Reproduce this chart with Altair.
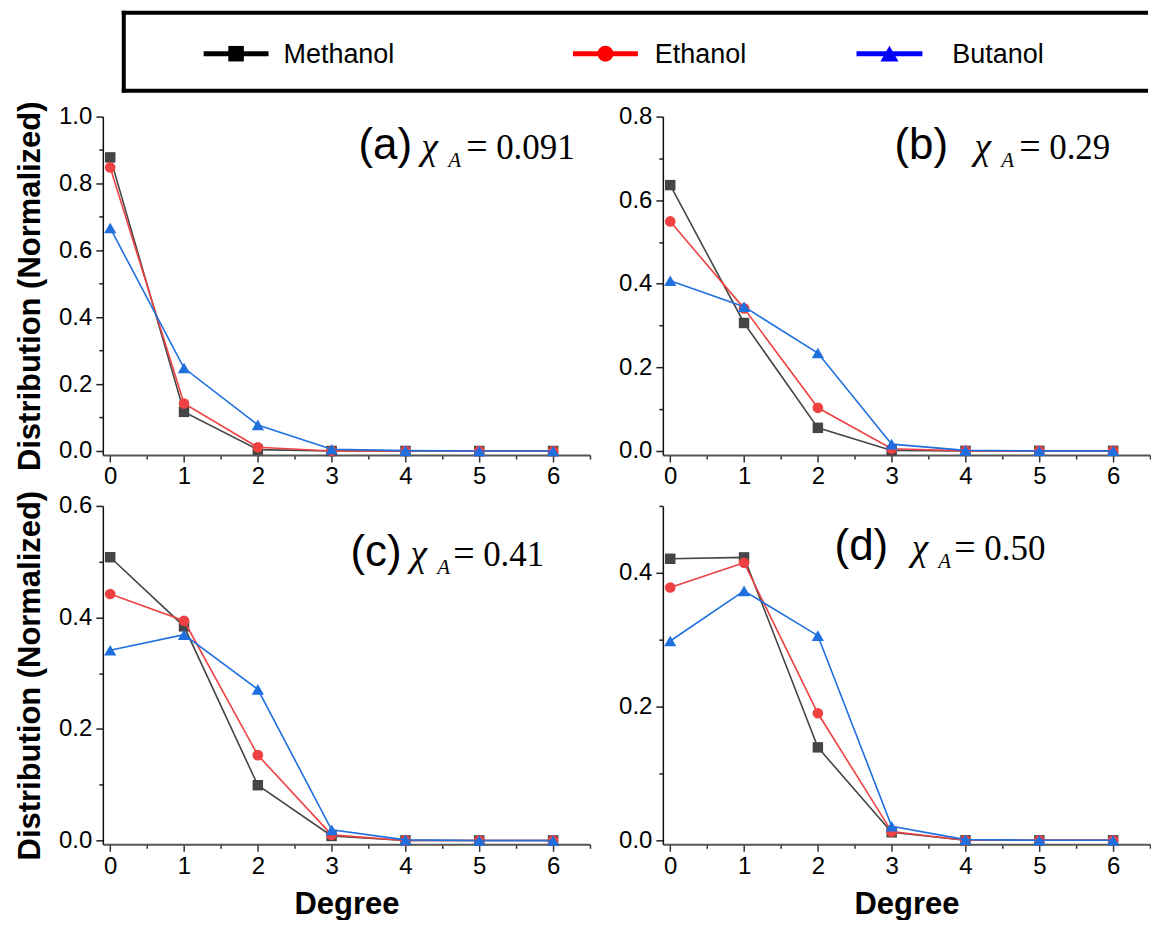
import altair as alt
import pandas as pd

degree = [0, 1, 2, 3, 4, 5, 6]
series = ["Methanol", "Ethanol", "Butanol"]

a_methanol = [0.878, 0.117, 0.004, 0.0, 0.0, 0.0, 0.0]
a_ethanol = [0.848, 0.142, 0.011, 0.0, 0.0, 0.0, 0.0]
a_butanol = [0.667, 0.248, 0.078, 0.005, 0.001, 0.0, 0.0]

b_methanol = [0.636, 0.306, 0.055, 0.001, 0.0, 0.0, 0.0]
b_ethanol = [0.549, 0.341, 0.103, 0.005, 0.0, 0.0, 0.0]
b_butanol = [0.407, 0.345, 0.234, 0.016, 0.001, 0.0, 0.0]

c_methanol = [0.508, 0.384, 0.099, 0.008, 0.0, 0.0, 0.0]
c_ethanol = [0.442, 0.394, 0.153, 0.010, 0.0, 0.0, 0.0]
c_butanol = [0.341, 0.369, 0.271, 0.019, 0.001, 0.0, 0.0]

d_methanol = [0.421, 0.423, 0.139, 0.012, 0.0, 0.0, 0.0]
d_ethanol = [0.378, 0.415, 0.190, 0.013, 0.0, 0.0, 0.0]
d_butanol = [0.298, 0.373, 0.306, 0.021, 0.001, 0.0, 0.0]

panel_tags = ["(a)", "(b)", "(c)", "(d)"]
chi_values = ["0.091", "0.29", "0.41", "0.50"]
y_tops = [1.0, 0.8, 0.6, 0.5]
y_ticks = [
    [0.0, 0.1, 0.2, 0.3, 0.4, 0.5, 0.6, 0.7, 0.8, 0.9, 1.0],
    [0.0, 0.1, 0.2, 0.3, 0.4, 0.5, 0.6, 0.7, 0.8],
    [0.0, 0.1, 0.2, 0.3, 0.4, 0.5, 0.6],
    [0.0, 0.1, 0.2, 0.3, 0.4, 0.5],
]
x_ticks = [0, 0.5, 1, 1.5, 2, 2.5, 3, 3.5, 4, 4.5, 5, 5.5, 6, 6.5]

line_colors = ["#454545", "#EE4242", "#1F6FDF"]
legend_colors = ["#000000", "#FF0000", "#0000FF"]
shapes = ["square", "circle", "triangle-up"]
marker_sizes = [110, 115, 150]

SANS = "Liberation Sans"
SERIF = "Liberation Serif"

PW, PH = 488, 339


def make_panel(idx, values, ymin, show_ytitle, show_xtitle, ann):
    rows = []
    for s, vals in zip(series, values):
        for d, v in zip(degree, vals):
            rows.append({"degree": d, "value": v, "series": s})
    df = pd.DataFrame(rows)

    xscale = alt.Scale(domain=[-0.1, 6.5], nice=False, zero=False)
    yscale = alt.Scale(domain=[ymin, y_tops[idx]], nice=False, zero=False)

    xaxis = alt.Axis(
        values=x_ticks,
        labelExpr="datum.value % 1 === 0 ? format(datum.value, 'd') : ''",
        tickSize={"condition": {"test": "datum.value % 1 === 0", "value": 7}, "value": 4},
        title="Degree" if show_xtitle else None,
        titleFontSize=31, titleFontWeight="bold", titlePadding=11,
        labelFlush=False, labelOverlap=False, labelPadding=3,
        domainColor="#555555", domainWidth=2, tickColor="#333333", tickWidth=1.5,
    )
    yaxis = alt.Axis(
        values=y_ticks[idx],
        labelExpr="round(datum.value*10) % 2 === 0 ? format(datum.value, '.1f') : ''",
        tickSize={"condition": {"test": "round(datum.value*10) % 2 === 0", "value": 7}, "value": 4},
        title="Distribution (Normalized)" if show_ytitle else None,
        titleFontSize=31, titleFontWeight="bold", titlePadding=12,
        labelOverlap=False, labelPadding=4,
        domainColor="#111111", domainWidth=1.5, tickColor="#222222", tickWidth=1.5,
    )

    layers = []
    for k, s in enumerate(series):
        sub = alt.Chart(df).transform_filter(alt.datum.series == s)
        enc = dict(
            x=alt.X("degree:Q", scale=xscale, axis=xaxis),
            y=alt.Y("value:Q", scale=yscale, axis=yaxis),
        )
        layers.append(sub.mark_line(color=line_colors[k], strokeWidth=1.6).encode(**enc))
        layers.append(
            sub.mark_point(
                shape=shapes[k], filled=True, color=line_colors[k], opacity=1,
                size=marker_sizes[k],
            ).encode(**enc)
        )

    tx, ty, cx, ax_, eqx, nx = ann
    tdf = pd.DataFrame({"tag": [panel_tags[idx]], "chi": [chi_values[idx]]})
    tbase = alt.Chart(tdf)
    layers.append(
        tbase.mark_text(font=SANS, fontSize=44, align="left", baseline="alphabetic", color="black")
        .encode(x=alt.value(tx), y=alt.value(ty), text="tag:N")
    )
    layers.append(
        tbase.mark_text(font=SERIF, fontSize=38, fontStyle="italic", align="left",
                        baseline="alphabetic", color="black")
        .encode(x=alt.value(cx), y=alt.value(ty), text=alt.value("χ"))
    )
    layers.append(
        tbase.mark_text(font=SERIF, fontSize=21, fontStyle="italic", align="left",
                        baseline="alphabetic", color="black")
        .encode(x=alt.value(ax_), y=alt.value(ty + 8), text=alt.value("A"))
    )
    layers.append(
        tbase.mark_text(font=SERIF, fontSize=38, align="left", baseline="alphabetic", color="black")
        .encode(x=alt.value(eqx), y=alt.value(ty), text=alt.value("="))
    )
    layers.append(
        tbase.mark_text(font=SERIF, fontSize=35, align="left", baseline="alphabetic", color="black")
        .encode(x=alt.value(nx), y=alt.value(ty), text="chi:N")
    )
    return alt.layer(*layers).properties(width=PW, height=PH)


pa = make_panel(0, [a_methanol, a_ethanol, a_butanol], -0.012, True, False,
                (256, 42, 319, 346, 364, 394))
pb = make_panel(1, [b_methanol, b_ethanol, b_butanol], -0.010, False, False,
                (232, 42, 312, 339, 357, 387))
pc = make_panel(2, [c_methanol, c_ethanol, c_butanol], -0.007, True, True,
                (248, 60, 308, 335, 351, 381))
pd_ = make_panel(3, [d_methanol, d_ethanol, d_butanol], -0.006, False, True,
                 (172, 54, 249, 276, 292, 322))

# Legend box (its view is aligned with panel (a)'s plot area, which starts at x=104)
OFF = 104
LW, LH = 1151 - OFF, 92
leg_df = pd.DataFrame({"series": series})
frame = alt.Chart(leg_df).transform_filter(alt.datum.series == series[0])
leg_layers = [
    frame.mark_rule(color="black", strokeWidth=4).encode(
        x=alt.value(125 - OFF - 2), x2=alt.value(LW), y=alt.value(12)),
    frame.mark_rule(color="black", strokeWidth=4).encode(
        x=alt.value(125 - OFF - 2), x2=alt.value(LW), y=alt.value(90)),
    frame.mark_rule(color="black", strokeWidth=4).encode(
        x=alt.value(125 - OFF), y=alt.value(10), y2=alt.value(92)),
]
leg_pos = [(205, 270, 285), (575, 640, 657), (859, 925, 955)]
for k, s in enumerate(series):
    sub = alt.Chart(leg_df).transform_filter(alt.datum.series == s)
    x1, x2, tx = leg_pos[k]
    leg_layers.append(sub.mark_rule(color=legend_colors[k], strokeWidth=5).encode(
        x=alt.value(x1 - OFF), x2=alt.value(x2 - OFF), y=alt.value(53)))
    leg_layers.append(sub.mark_point(shape=shapes[k], filled=True, opacity=1,
                                     color=legend_colors[k], size=marker_sizes[k] * 2.2).encode(
        x=alt.value((x1 + x2) / 2 - OFF), y=alt.value(53)))
    leg_layers.append(sub.mark_text(font=SANS, fontSize=27, align="left", baseline="middle",
                                    color="black").encode(
        x=alt.value(tx - OFF), y=alt.value(54), text="series:N"))
legend = alt.layer(*leg_layers).properties(width=LW, height=LH)

row1 = alt.hconcat(pa, pb, spacing=27)
row2 = alt.hconcat(pc, pd_, spacing=27)
rows = alt.vconcat(row1, row2, spacing=1)

chart = alt.vconcat(legend, rows, spacing=6).properties(
    padding={"left": 14, "top": 0, "right": 0, "bottom": 0}
).configure_view(stroke=None).configure_axis(
    grid=False, labelFont=SANS, titleFont=SANS, labelFontSize=24, labelColor="black",
    titleColor="black",
)

chart.save("out.html", embed_options={"renderer": "svg", "actions": False})
